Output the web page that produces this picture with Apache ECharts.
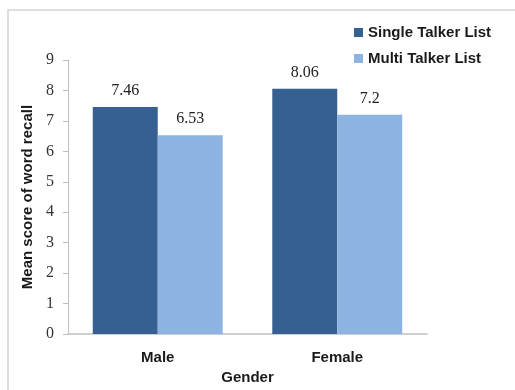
<!DOCTYPE html>
<html><head><meta charset="utf-8">
<script src="https://cdn.jsdelivr.net/npm/echarts@6/dist/echarts.min.js"></script>
<style>html,body{margin:0;padding:0;background:#fff}#c{width:515px;height:390px}</style>
</head><body><div id="c"></div>
<script>
var categories = ["Male", "Female"];
var singleTalker = [7.46, 8.06];
var multiTalker = [6.53, 7.2];
var seriesNames = ["Single Talker List", "Multi Talker List"];
var yTicks = [0, 9, 1];

var narrow = '"Liberation Sans Narrow", "Arial Narrow", "Liberation Sans", Arial, sans-serif';
var serif = '"Liberation Serif", "Times New Roman", serif';
var chart = echarts.init(document.getElementById('c'), null, {renderer: 'canvas'});
chart.setOption({
  animation: false,
  backgroundColor: '#fff',
  graphic: [{type: 'rect', shape: {x: 8, y: 10, width: 520, height: 400}, style: {fill: 'none', stroke: '#d4d4d4', lineWidth: 1.5}, z: -1}],
  legend: {
    data: seriesNames, orient: 'vertical', left: 349, top: 20, icon: 'rect', itemWidth: 9, itemHeight: 9, itemGap: 11,
    textStyle: {fontFamily: narrow, fontWeight: 'bold', fontSize: 15, color: '#1a1a1a'}
  },
  grid: {left: 68, right: 88, top: 60, bottom: 54},
  xAxis: {
    type: 'category', data: categories,
    name: 'Gender', nameLocation: 'middle', nameGap: 35,
    nameTextStyle: {fontFamily: narrow, fontWeight: 'bold', fontSize: 15, color: '#1a1a1a'},
    axisLine: {lineStyle: {color: '#c0c0c0', width: 1.5}},
    axisTick: {show: false},
    axisLabel: {fontFamily: narrow, fontWeight: 'bold', fontSize: 15, color: '#1a1a1a', margin: 16}
  },
  yAxis: {
    type: 'value', min: yTicks[0], max: yTicks[1], interval: yTicks[2],
    name: 'Mean score of word recall', nameLocation: 'middle', nameGap: 31,
    nameTextStyle: {fontFamily: narrow, fontWeight: 'bold', fontSize: 15, color: '#1a1a1a'},
    axisLine: {show: true, lineStyle: {color: '#c0c0c0', width: 1}},
    axisTick: {show: true, length: 5, lineStyle: {color: '#c0c0c0'}},
    splitLine: {show: false},
    axisLabel: {fontFamily: serif, fontSize: 16, color: '#333', margin: 14}
  },
  series: [
    {name: seriesNames[0], type: 'bar', data: singleTalker, barGap: '0%', barCategoryGap: '27.6%',
     itemStyle: {color: '#376092'},
     label: {show: true, position: 'top', distance: 8, fontFamily: serif, fontSize: 16, color: '#222'}},
    {name: seriesNames[1], type: 'bar', data: multiTalker,
     itemStyle: {color: '#8db3e2'},
     label: {show: true, position: 'top', distance: 8, fontFamily: serif, fontSize: 16, color: '#222'}}
  ]
});
</script></body></html>
